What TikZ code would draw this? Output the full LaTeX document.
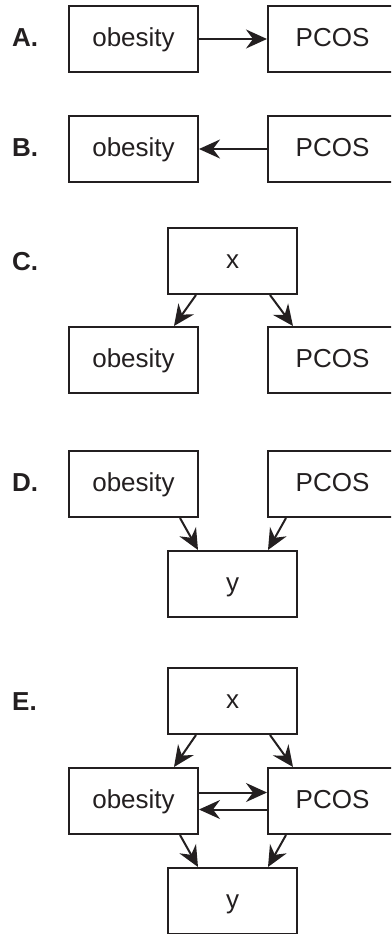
\documentclass[tikz,border=0pt]{standalone}
\usepackage{fontspec}
\setmainfont{Liberation Sans}
\usetikzlibrary{arrows.meta}
\definecolor{ink}{HTML}{231F20}
\begin{document}
\begin{tikzpicture}[x=1pt,y=1pt,
  box/.style={draw=ink, line width=2pt, minimum width=129pt, minimum height=66pt, inner sep=0pt, text=ink, text height=20pt, text depth=5pt, font=\fontsize{26}{30}\selectfont},
  lab/.style={anchor=west, inner sep=0pt, text=ink, text height=20pt, text depth=5pt, font=\fontsize{26}{30}\selectfont\bfseries},
  arr/.style={draw=ink, line width=2pt, -{Stealth[length=21pt, width=19pt, inset=7pt]}}]
\path[use as bounding box, clip] (0,0) rectangle (391,-934);
% A
\node[lab] (la) at (12,-39) {A.};
\node[box] (aob) at (133.5,-39) {obesity};
\node[box] (apc) at (332.5,-39) {PCOS};
\draw[arr] (aob.east) -- (apc.west);
% B
\node[lab] (lb) at (12,-149) {B.};
\node[box] (bob) at (133.5,-149) {obesity};
\node[box] (bpc) at (332.5,-149) {PCOS};
\draw[arr] (bpc.west) -- (bob.east);
% C
\node[lab] (lc) at (12,-263) {C.};
\node[box] (cx) at (232.5,-261) {x};
\node[box] (cob) at (133.5,-360) {obesity};
\node[box] (cpc) at (332.5,-360) {PCOS};
\draw[arr] ([xshift=-36.5pt]cx.south) -- ([xshift=40.5pt]cob.north);
\draw[arr] ([xshift=37.5pt]cx.south) -- ([xshift=-39.5pt]cpc.north);
% D
\node[lab] (ld) at (12,-484) {D.};
\node[box] (dob) at (133.5,-484) {obesity};
\node[box] (dpc) at (332.5,-484) {PCOS};
\node[box] (dy) at (232.5,-584) {y};
\draw[arr] ([xshift=46.5pt]dob.south) -- ([xshift=-34.5pt]dy.north);
\draw[arr] ([xshift=-46.5pt]dpc.south) -- ([xshift=35.5pt]dy.north);
% E
\node[lab] (le) at (12,-703) {E.};
\node[box] (ex) at (232.5,-701) {x};
\node[box] (eob) at (133.5,-801) {obesity};
\node[box] (epc) at (332.5,-801) {PCOS};
\node[box] (ey) at (232.5,-901) {y};
\draw[arr] ([xshift=-36.5pt]ex.south) -- ([xshift=40.5pt]eob.north);
\draw[arr] ([xshift=37.5pt]ex.south) -- ([xshift=-39.5pt]epc.north);
\draw[arr] ([yshift=8.5pt]eob.east) -- ([yshift=8.5pt]epc.west);
\draw[arr] ([yshift=-8.5pt]epc.west) -- ([yshift=-8.5pt]eob.east);
\draw[arr] ([xshift=46.5pt]eob.south) -- ([xshift=-34.5pt]ey.north);
\draw[arr] ([xshift=-46.5pt]epc.south) -- ([xshift=35.5pt]ey.north);
\end{tikzpicture}
\end{document}
